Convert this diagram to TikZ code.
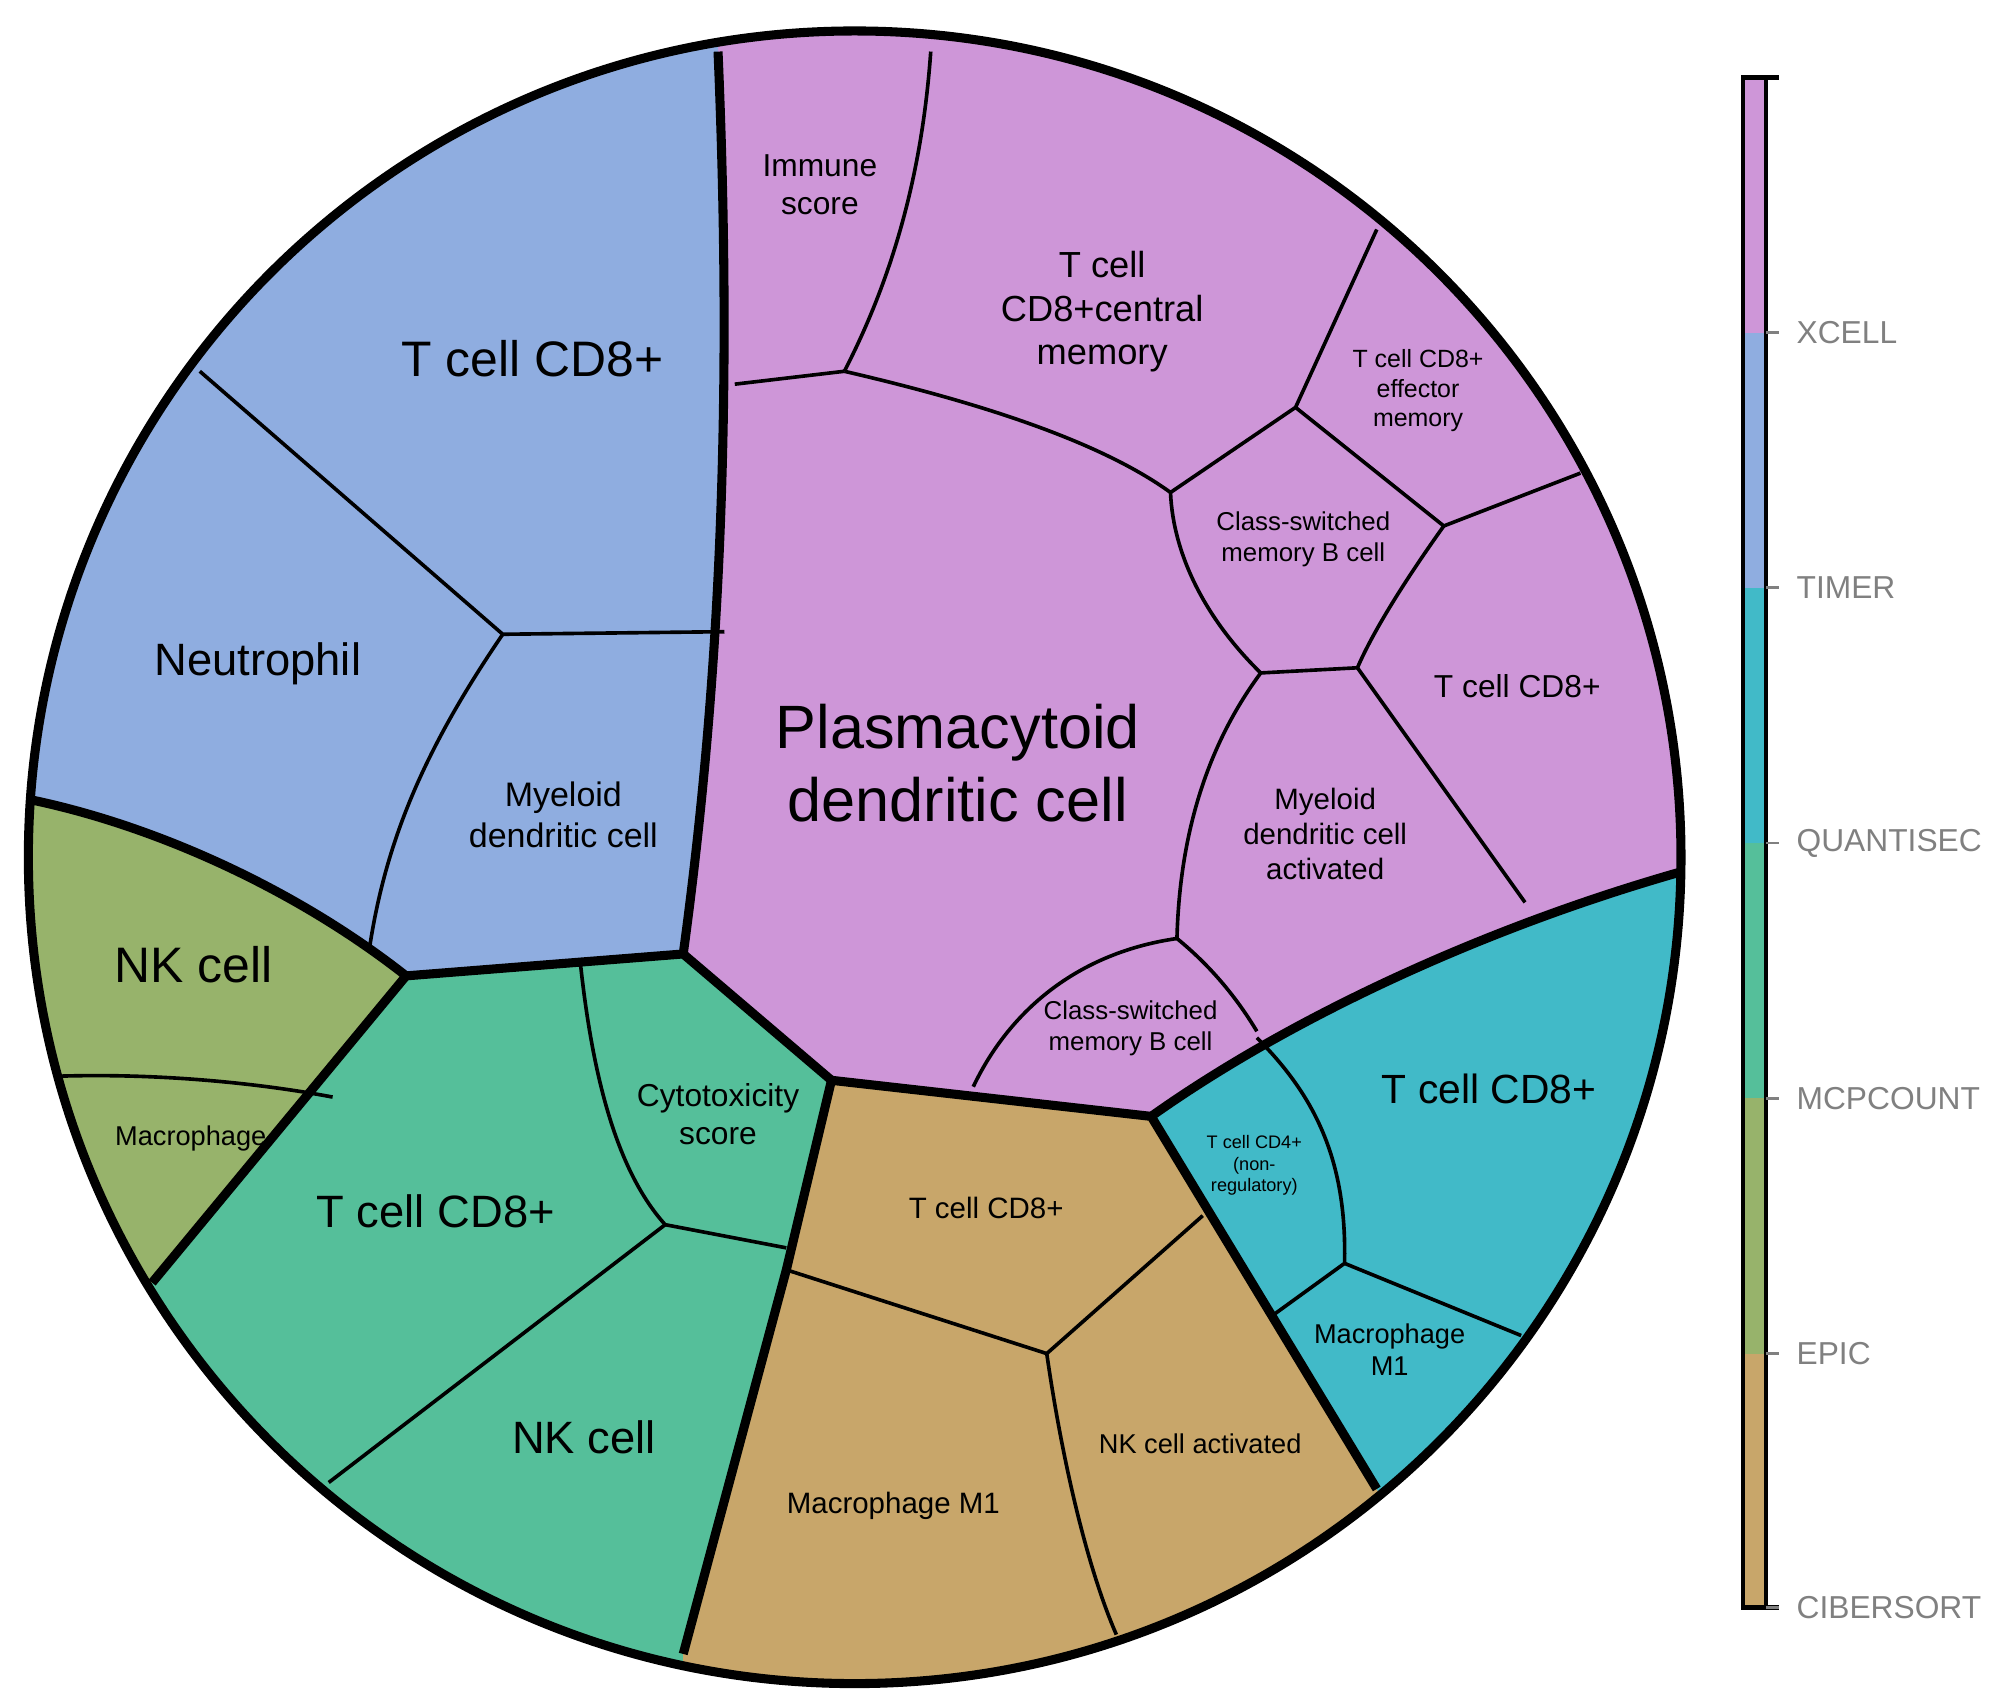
\documentclass[tikz,border=0pt]{standalone}
\usepackage{fontspec}
\setmainfont{Liberation Sans}
\definecolor{cpink}{HTML}{CE96D8}
\definecolor{cblue}{HTML}{8FADE0}
\definecolor{ccyan}{HTML}{41BAC8}
\definecolor{cgreen}{HTML}{55BF9A}
\definecolor{colive}{HTML}{97B36B}
\definecolor{ctan}{HTML}{C8A66A}
\begin{document}
\begin{tikzpicture}[x=0.01cm,y=-0.01cm,
 thin line/.style={line width=0.8pt},
 thick line/.style={line width=2pt},
 lab/.style={align=center,font=\fontsize{#1pt}{1.2\dimexpr #1pt\relax}\selectfont,inner sep=0pt},
 bar/.style={font=\fontsize{7}{8}\selectfont,text=gray,anchor=west,inner sep=0pt}]
\useasboundingbox (0,0) rectangle (1560,1323);
\coordinate (C) at (663,665);
\begin{scope}
\clip (C) circle (641);
\fill[cpink] (0,0) rectangle (1400,1400);
\fill[cblue] (0,0)--(557,0)--(557,40)..controls(568,300)and(560,520)..(530,740)--(315,757)..controls(230,690)and(120,640)..(22,620)--(0,615)--cycle;
\fill[colive] (0,615)--(22,620)..controls(120,640)and(230,690)..(315,757)--(118,995)--(0,1100)--cycle;
\fill[cgreen] (315,757)--(530,740)--(645,838)--(610,985)--(530,1283)--(530,1400)--(0,1400)--(0,1100)--(118,995)--cycle;
\fill[ctan] (645,838)--(893,866)--(1068,1155)--(1200,1400)--(530,1400)--(530,1283)--(610,985)--cycle;
\fill[ccyan] (893,866)..controls(1000,790)and(1150,720)..(1305,676)--(1400,676)--(1400,1400)--(1200,1400)--(1068,1155)--cycle;
\draw[thin line] (155,288)--(390,492)--(562,490);
\draw[thin line] (390,492)..controls(330,580)and(300,650)..(287,733);
\draw[thin line] (40,835)..controls(120,832)and(200,840)..(258,851);
\draw[thin line] (450,745)..controls(460,840)and(480,910)..(516,950)--(610,968);
\draw[thin line] (516,950)--(255,1150);
\draw[thin line] (610,985)--(812,1050)--(933,943);
\draw[thin line] (812,1050)..controls(825,1140)and(845,1220)..(866,1268);
\draw[thin line] (975,805)..controls(1020,850)and(1045,900)..(1043,980)--(985,1022);
\draw[thin line] (1043,980)--(1180,1036);
\draw[thin line] (570,298)--(655,288);
\draw[thin line] (655,288)..controls(690,220)and(715,140)..(722,40);
\draw[thin line] (655,288)..controls(750,310)and(850,340)..(908,382)--(1005,316)--(1068,178);
\draw[thin line] (1005,316)--(1120,408)--(1226,367);
\draw[thin line] (908,382)..controls(910,430)and(935,480)..(978,522)--(1053,518);
\draw[thin line] (1120,408)..controls(1090,450)and(1065,490)..(1053,518)--(1183,700);
\draw[thin line] (978,522)..controls(935,580)and(915,650)..(913,728);
\draw[thin line] (913,728)..controls(940,750)and(960,775)..(975,800);
\draw[thin line] (913,728)..controls(830,740)and(780,790)..(755,843);
\draw[thick line] (557,40)..controls(568,300)and(560,520)..(530,740)--(315,757);
\draw[thick line] (22,620)..controls(120,640)and(230,690)..(315,757)--(118,995);
\draw[thick line] (530,740)--(645,838)--(610,985)--(530,1283);
\draw[thick line] (645,838)--(893,866)--(1068,1155);
\draw[thick line] (893,866)..controls(1000,790)and(1150,720)..(1305,676);
\end{scope}
\draw[thick line] (C) circle (641);
\node[lab=11] (t1) at (413,278) {T cell CD8+};
\node[lab=10] (t2) at (200,515) {Neutrophil};
\node[lab=7.5] (t3) at (437,632) {Myeloid\\dendritic cell};
\node[lab=11] (t4) at (150,748) {NK cell};
\node[lab=6] (t5) at (148,883) {Macrophage};
\node[lab=10] (t6) at (338,940) {T cell CD8+};
\node[lab=7] (t7) at (557,864) {Cytotoxicity\\score};
\node[lab=10] (t8) at (453,1115) {NK cell};
\node[lab=6.5] (t9) at (765,937) {T cell CD8+};
\node[lab=6.5] (t10) at (693,1168) {Macrophage M1};
\node[lab=6] (t11) at (931,1120) {NK cell activated};
\node[lab=4] (t12) at (973,904) {T cell CD4+\\(non-\\regulatory)};
\node[lab=9] (t13) at (1155,845) {T cell CD8+};
\node[lab=6] (t14) at (1078,1047) {Macrophage\\M1};
\node[lab=13.5] (t15) at (743,592) {Plasmacytoid\\dendritic cell};
\node[lab=7] (t16) at (636,143) {Immune\\score};
\node[lab=8] (t17) at (855,242) {T cell\\CD8+central\\memory};
\node[lab=5.5] (t18) at (1100,303) {T cell CD8+\\effector\\memory};
\node[lab=5.7] (t19) at (1011,418) {Class-switched\\memory B cell};
\node[lab=7] (t20) at (1177,532) {T cell CD8+};
\node[lab=6.5] (t21) at (1028,647) {Myeloid\\dendritic cell\\activated};
\node[lab=5.7] (t22) at (877,798) {Class-switched\\memory B cell};
\fill[cpink] (1352,60) rectangle (1370,258);
\fill[cblue] (1352,258) rectangle (1370,456);
\fill[ccyan] (1352,456) rectangle (1370,654);
\fill[cgreen] (1352,654) rectangle (1370,852);
\fill[colive] (1352,852) rectangle (1370,1050);
\fill[ctan] (1352,1050) rectangle (1370,1247);
\draw[line width=1pt] (1352,60) rectangle (1370,1247);
\draw[line width=1pt] (1370,60)--(1380,60) (1370,1247)--(1380,1247);
\foreach \y/\t in {258/XCELL,456/TIMER,654/QUANTISEC,852/MCPCOUNT,1050/EPIC,1247/CIBERSORT}{
 \draw[gray,line width=0.6pt] (1370,\y)--(1380,\y);
 \node[bar] at (1393,\y) {\t};}
\end{tikzpicture}
\end{document}
